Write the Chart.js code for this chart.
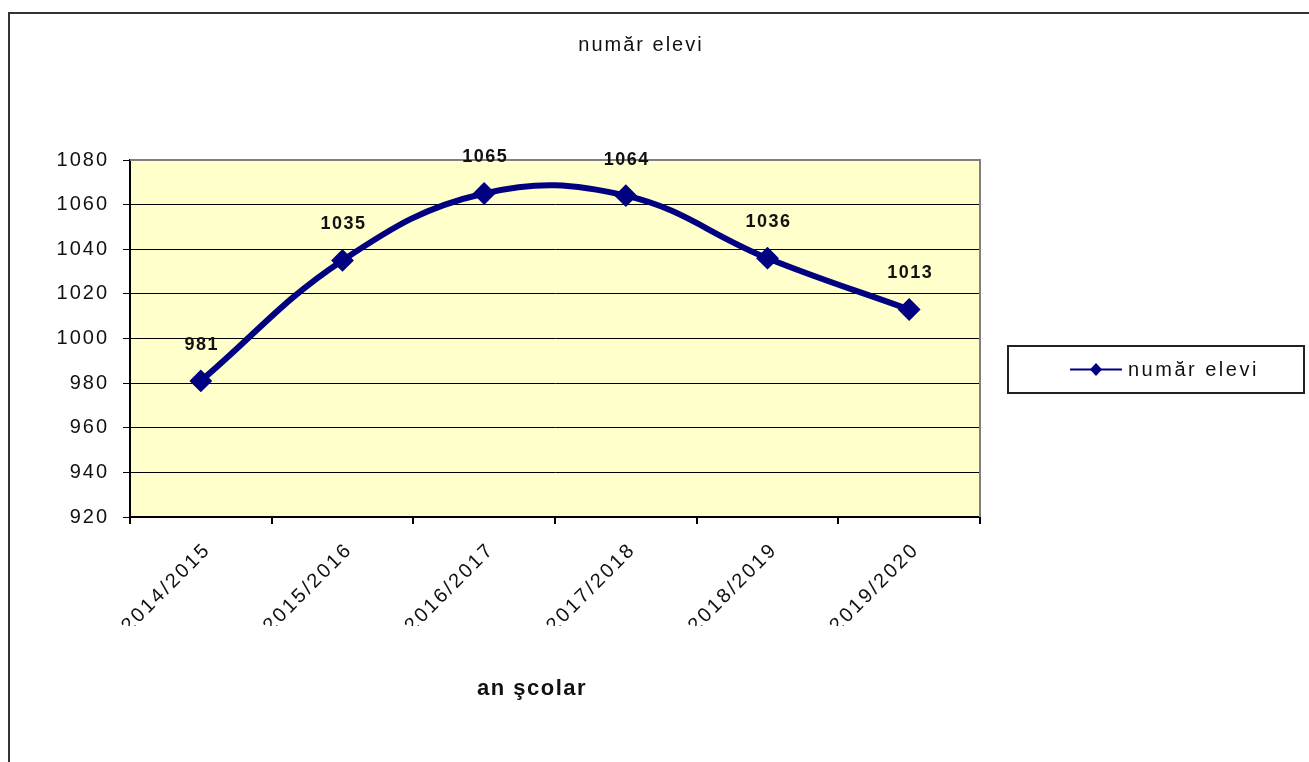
<!DOCTYPE html>
<html>
<head>
<meta charset="utf-8">
<script src="https://cdn.jsdelivr.net/npm/chart.js@4/dist/chart.umd.min.js"></script>
<style>
  html, body { margin: 0; padding: 0; background: #fff; }
  canvas { display: block; }
</style>
</head>
<body>
<canvas id="c" width="1309" height="762"></canvas>
<script>
// ---- data ----
const categories = ['2014/2015', '2015/2016', '2016/2017', '2017/2018', '2018/2019', '2019/2020'];
const studentCounts = [981, 1035, 1065, 1064, 1036, 1013];
const yMin = 920;
const yMax = 1080;
const yStep = 20;
const seriesName = 'număr elevi';
const chartTitle = 'număr elevi';
const xAxisTitle = 'an şcolar';

const FONT = '"Liberation Sans", Arial, sans-serif';
const NAVY = '#000080';

const decorPlugin = {
  id: 'decor',
  afterLayout(chart) {
    const ctx = chart.ctx;
    Object.values(chart.scales).forEach(scale => {
      if (scale._wrapped) return;
      scale._wrapped = true;
      const orig = scale.drawLabels;
      scale.drawLabels = function (area) {
        ctx.save();
        if (this.axis === 'x') {
          ctx.letterSpacing = '2.5px';
          ctx.beginPath();
          ctx.rect(0, 0, chart.width, 626);
          ctx.clip();
        } else {
          ctx.letterSpacing = '2px';
        }
        orig.call(this, area);
        ctx.restore();
      };
    });
  },
  beforeDraw(chart) {
    const { ctx, chartArea: a } = chart;
    ctx.save();
    ctx.fillStyle = '#FFFFCC';
    ctx.fillRect(a.left, a.top, a.right - a.left, a.bottom - a.top);
    ctx.restore();
  },
  beforeDatasetsDraw(chart) {
    const { ctx, chartArea: a } = chart;
    ctx.save();
    ctx.strokeStyle = '#808080';
    ctx.lineWidth = 2;
    ctx.beginPath();
    ctx.moveTo(a.left, a.top);
    ctx.lineTo(a.right, a.top);
    ctx.lineTo(a.right, a.bottom);
    ctx.stroke();
    ctx.restore();
  },
  afterDraw(chart) {
    const ctx = chart.ctx;
    ctx.save();
    // outer frame
    ctx.strokeStyle = '#333';
    ctx.lineWidth = 2;
    ctx.beginPath();
    ctx.moveTo(9, chart.height);
    ctx.lineTo(9, 13);
    ctx.lineTo(chart.width, 13);
    ctx.stroke();

    // title
    ctx.fillStyle = '#111';
    ctx.textAlign = 'center';
    ctx.textBaseline = 'middle';
    ctx.font = '20px ' + FONT;
    ctx.letterSpacing = '2px';
    ctx.fillText(chartTitle, 641, 45);

    // x axis title
    ctx.font = 'bold 22px ' + FONT;
    ctx.letterSpacing = '1.5px';
    ctx.fillText(xAxisTitle, 532, 689);

    // data labels
    const meta = chart.getDatasetMeta(0);
    ctx.font = 'bold 18px ' + FONT;
    ctx.letterSpacing = '1.5px';
    meta.data.forEach((pt, i) => {
      ctx.fillText(String(chart.data.datasets[0].data[i]), pt.x + 1, pt.y - 36);
    });

    // legend
    ctx.letterSpacing = '0px';
    ctx.strokeStyle = '#222';
    ctx.lineWidth = 2;
    ctx.strokeRect(1008, 346, 296, 47);
    ctx.strokeStyle = NAVY;
    ctx.beginPath();
    ctx.moveTo(1070, 369.5);
    ctx.lineTo(1122, 369.5);
    ctx.stroke();
    ctx.fillStyle = NAVY;
    ctx.beginPath();
    ctx.moveTo(1096, 363);
    ctx.lineTo(1102, 369.5);
    ctx.lineTo(1096, 376);
    ctx.lineTo(1090, 369.5);
    ctx.closePath();
    ctx.fill();
    ctx.fillStyle = '#111';
    ctx.textAlign = 'left';
    ctx.font = '20px ' + FONT;
    ctx.letterSpacing = '2.5px';
    ctx.fillText(chart.data.datasets[0].label, 1128, 370);
    ctx.restore();
  }
};

new Chart(document.getElementById('c'), {
  type: 'line',
  data: {
    labels: categories,
    datasets: [{
      label: seriesName,
      data: studentCounts,
      borderColor: NAVY,
      backgroundColor: NAVY,
      borderWidth: 6,
      tension: 0.4,
      pointStyle: 'rectRot',
      pointRadius: 10,
      pointBorderWidth: 2,
      pointBackgroundColor: NAVY,
      pointBorderColor: NAVY,
      clip: false
    }]
  },
  options: {
    responsive: false,
    animation: false,
    events: [],
    layout: { padding: { left: 0, top: 160, right: 329, bottom: 0 } },
    plugins: {
      legend: { display: false },
      title: { display: false },
      tooltip: { enabled: false }
    },
    scales: {
      x: {
        offset: true,
        afterFit(scale) { scale.height = 245; },
        grid: {
          display: true,
          drawOnChartArea: false,
          drawTicks: true,
          tickLength: 7,
          color: '#000',
          lineWidth: 2,
          offset: true
        },
        border: { display: true, color: '#000', width: 2 },
        ticks: {
          autoSkip: false,
          minRotation: 45,
          maxRotation: 45,
          padding: 14,
          labelOffset: 7,
          color: '#111',
          font: { family: FONT, size: 20 }
        }
      },
      y: {
        min: yMin,
        max: yMax,
        afterFit(scale) { scale.width = 130; },
        grid: {
          color: '#000',
          lineWidth: 1,
          tickLength: 7,
          drawTicks: true
        },
        border: { display: true, color: '#000', width: 2 },
        ticks: {
          stepSize: yStep,
          padding: 14,
          color: '#111',
          font: { family: FONT, size: 20 },
          callback: (v) => String(v)
        }
      }
    }
  },
  plugins: [decorPlugin]
});
</script>
</body>
</html>
